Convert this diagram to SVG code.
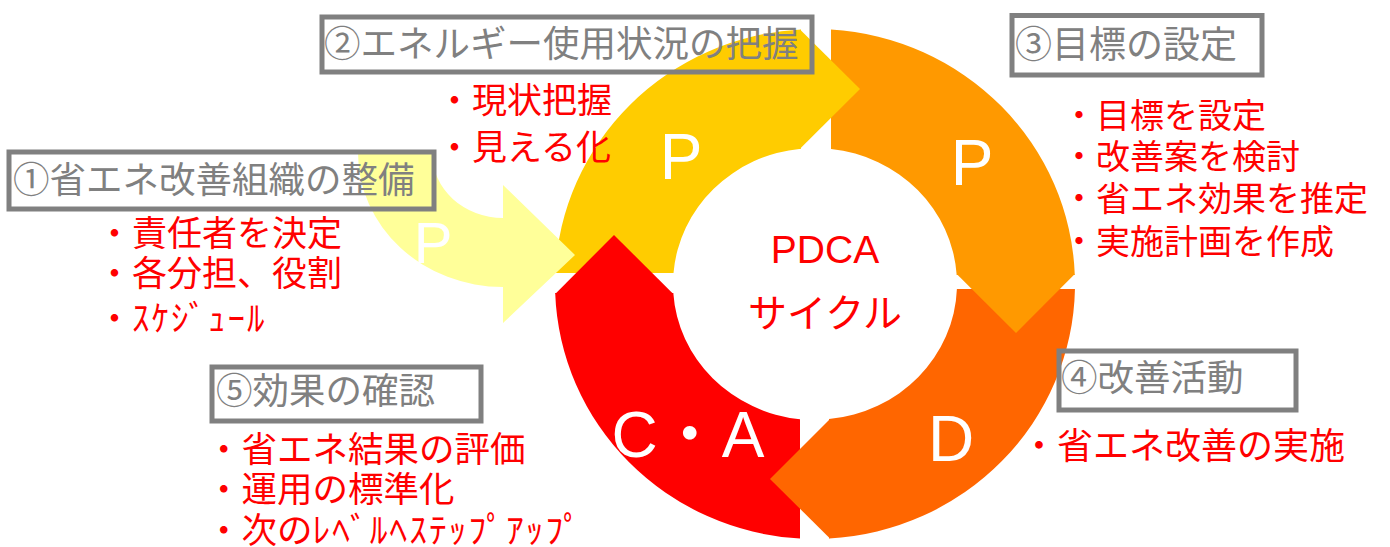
<svg xmlns="http://www.w3.org/2000/svg" width="1390" height="547" viewBox="0 0 1390 547">
<style>
.box{fill:none;stroke:#808080;stroke-width:5}
.ttl{font-family:"Noto Sans CJK JP","Noto Sans CJK SC",sans-serif;fill:#808080}
.item{font-family:"Noto Sans CJK JP","Noto Sans CJK SC",sans-serif;fill:#FF0000}
.big{font-family:"Liberation Sans",Arial,"Noto Sans CJK JP",sans-serif;fill:#FFFFFF;text-anchor:middle}
.ctr{font-family:"Liberation Sans",Arial,"Noto Sans CJK JP",sans-serif;fill:#FF0000;text-anchor:middle}
.hw{letter-spacing:2px}
.y{fill:#FFCC00}.o{fill:#FF9900}.d{fill:#FF6600}.r{fill:#FF0000}.ly{fill:#FFFF99}
</style>
<rect width="1390" height="547" fill="#FFFFFF"/>
<g id="connectors">
  <path class="y" d="M555.2 273 A260 255 0 0 1 801 29.4 L801 148.7 A142 136 0 0 0 673.5 273 Z"/>
  <path class="o" d="M831 29.5 A260 255 0 0 1 1074.8 275 L956.7 275 A142 136 0 0 0 831 148.9 Z"/>
  <path class="d" d="M1074.95 289 A260 255 0 0 1 829 538.5 L829 419.1 A142 136 0 0 0 956.9 289 Z"/>
  <path class="r" d="M800 538.6 A260 255 0 0 1 555.2 293 L673.3 293 A142 136 0 0 0 800 419.2 Z"/>
  <path class="ly" d="M358 153 L432 153 A71 65 0 0 0 503 218 L503 185 L575 255 L503 323 L503 287 A145 134 0 0 1 358 153 Z"/>
  <polygon class="y" points="800,29.4 860,89 800,148.7"/>
  <polygon class="o" points="956.7,274 1016,333 1074.8,274"/>
  <polygon class="d" points="830,419.1 770,479 830,538.5"/>
  <polygon class="r" points="555.2,294 614,235 673.3,294"/>
</g>
<g id="phase-labels">
  <text class="big" x="433" y="263" font-size="58">P</text>
  <text class="big" x="681" y="179" font-size="64">P</text>
  <text class="big" x="972" y="185" font-size="64">P</text>
  <text class="big" x="951" y="461" font-size="64">D</text>
  <text class="big" x="688" y="457" font-size="64">C・A</text>
</g>
<g id="center">
  <text class="ctr" x="825" y="263" font-size="39">PDCA</text>
  <text class="ctr" x="825" y="327" font-size="39" font-family="Noto Sans CJK JP, sans-serif">サイクル</text>
</g>
<g id="step1">
  <rect class="box" x="9" y="152" width="425" height="57"/>
  <text class="ttl" x="13" y="193" font-size="36.5">①省エネ改善組織の整備</text>
  <text class="item" x="97" y="246" font-size="35">・責任者を決定</text>
  <text class="item" x="97" y="286" font-size="35">・各分担、役割</text>
  <text class="item" x="97" y="331" font-size="35">・<tspan class="hw">ｽｹｼﾞｭｰﾙ</tspan></text>
</g>
<g id="step2">
  <rect class="box" x="322" y="17" width="490" height="55"/>
  <text class="ttl" x="324" y="56.5" font-size="36.5">②エネルギー使用状況の把握</text>
  <text class="item" x="437" y="113" font-size="35">・現状把握</text>
  <text class="item" x="437" y="160" font-size="35">・見える化</text>
</g>
<g id="step3">
  <rect class="box" x="1012" y="15.5" width="250" height="59.5"/>
  <text class="ttl" x="1015" y="58" font-size="37">③目標の設定</text>
  <text class="item" x="1062" y="128" font-size="34">・目標を設定</text>
  <text class="item" x="1062" y="169" font-size="34">・改善案を検討</text>
  <text class="item" x="1062" y="211" font-size="34">・省エネ効果を推定</text>
  <text class="item" x="1062" y="254" font-size="34">・実施計画を作成</text>
</g>
<g id="step4">
  <rect class="box" x="1059" y="351" width="237" height="59"/>
  <text class="ttl" x="1061" y="391" font-size="36.5">④改善活動</text>
  <text class="item" x="1021" y="459" font-size="36">・省エネ改善の実施</text>
</g>
<g id="step5">
  <rect class="box" x="212" y="367" width="269" height="54"/>
  <text class="ttl" x="216" y="404" font-size="36.5">⑤効果の確認</text>
  <text class="item" x="206" y="462" font-size="35.5">・省エネ結果の評価</text>
  <text class="item" x="206" y="502" font-size="35.5">・運用の標準化</text>
  <text class="item" x="206" y="543" font-size="35.5">・次の<tspan class="hw">ﾚﾍﾞﾙﾍｽﾃｯﾌﾟｱｯﾌﾟ</tspan></text>
</g>
</svg>
